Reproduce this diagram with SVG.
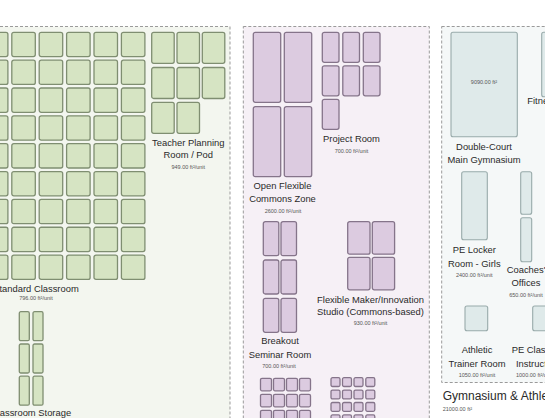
<svg xmlns="http://www.w3.org/2000/svg" xmlns:xlink="http://www.w3.org/1999/xlink" width="545" height="418" viewBox="0 0 545 418">
<style>
.panel{stroke:#9a9a9a;stroke-width:1;stroke-dasharray:3 2}
.g{fill:#d6e4c3;stroke:#7f8e71;stroke-width:1.3}
.p{fill:#dccbe0;stroke:#85748a;stroke-width:1.3}
.t{fill:#dfeaea;stroke:#98aaaa;stroke-width:1.1}
.lbl{font-family:"Liberation Sans",Arial,sans-serif;font-size:9.4px;fill:#2a2a2a;text-anchor:middle}
.sm{font-family:"Liberation Sans",Arial,sans-serif;font-size:5.5px;fill:#555;text-anchor:middle}
.ttl{font-family:"Liberation Sans",Arial,sans-serif;font-size:12px;fill:#2a2a2a}
</style>
<defs>
<rect id="cc" class="g" width="23.5" height="24.3" rx="2"/>
<rect id="tp" class="g" width="22.5" height="31" rx="2"/>
<rect id="st" class="g" width="10" height="29" rx="1.5"/>
<rect id="oc" class="p" width="27.4" height="70" rx="2"/>
<rect id="pr" class="p" width="16.7" height="30" rx="2"/>
<rect id="br" class="p" width="15.5" height="34" rx="2"/>
<rect id="mk" class="p" width="22.3" height="32.5" rx="2"/>
<rect id="s1" class="p" width="11" height="12.5" rx="1.5"/>
<rect id="s2" class="p" width="9" height="8.8" rx="1.5"/>
</defs>
<rect width="545" height="418" fill="#fff"/>

<g id="panel-academic">
<rect class="panel" x="-100" y="26.5" width="330" height="480" fill="#f3f6ef"/>
</g>
<g id="panel-commons">
<rect class="panel" x="243.3" y="26.5" width="186" height="480" fill="#f6f0f6"/>
</g>
<g id="panel-gym">
<rect class="panel" x="441.7" y="26.5" width="300" height="356" fill="#f5f8f8"/>
<text class="ttl" x="442.7" y="400">Gymnasium &amp; Athletics</text>
<text class="sm" x="442.7" y="411" style="text-anchor:start">21000.00 ft²</text>
</g>

<g id="standard-classroom">
<use href="#cc" x="-15.6" y="32.3"/><use href="#cc" x="11.8" y="32.3"/><use href="#cc" x="39.2" y="32.3"/><use href="#cc" x="66.6" y="32.3"/><use href="#cc" x="94" y="32.3"/><use href="#cc" x="121.4" y="32.3"/>
<use href="#cc" x="-15.6" y="60.15"/><use href="#cc" x="11.8" y="60.15"/><use href="#cc" x="39.2" y="60.15"/><use href="#cc" x="66.6" y="60.15"/><use href="#cc" x="94" y="60.15"/><use href="#cc" x="121.4" y="60.15"/>
<use href="#cc" x="-15.6" y="88"/><use href="#cc" x="11.8" y="88"/><use href="#cc" x="39.2" y="88"/><use href="#cc" x="66.6" y="88"/><use href="#cc" x="94" y="88"/><use href="#cc" x="121.4" y="88"/>
<use href="#cc" x="-15.6" y="115.85"/><use href="#cc" x="11.8" y="115.85"/><use href="#cc" x="39.2" y="115.85"/><use href="#cc" x="66.6" y="115.85"/><use href="#cc" x="94" y="115.85"/><use href="#cc" x="121.4" y="115.85"/>
<use href="#cc" x="-15.6" y="143.7"/><use href="#cc" x="11.8" y="143.7"/><use href="#cc" x="39.2" y="143.7"/><use href="#cc" x="66.6" y="143.7"/><use href="#cc" x="94" y="143.7"/><use href="#cc" x="121.4" y="143.7"/>
<use href="#cc" x="-15.6" y="171.55"/><use href="#cc" x="11.8" y="171.55"/><use href="#cc" x="39.2" y="171.55"/><use href="#cc" x="66.6" y="171.55"/><use href="#cc" x="94" y="171.55"/><use href="#cc" x="121.4" y="171.55"/>
<use href="#cc" x="-15.6" y="199.4"/><use href="#cc" x="11.8" y="199.4"/><use href="#cc" x="39.2" y="199.4"/><use href="#cc" x="66.6" y="199.4"/><use href="#cc" x="94" y="199.4"/><use href="#cc" x="121.4" y="199.4"/>
<use href="#cc" x="-15.6" y="227.25"/><use href="#cc" x="11.8" y="227.25"/><use href="#cc" x="39.2" y="227.25"/><use href="#cc" x="66.6" y="227.25"/><use href="#cc" x="94" y="227.25"/><use href="#cc" x="121.4" y="227.25"/>
<use href="#cc" x="-15.6" y="255.1"/><use href="#cc" x="11.8" y="255.1"/><use href="#cc" x="39.2" y="255.1"/><use href="#cc" x="66.6" y="255.1"/><use href="#cc" x="94" y="255.1"/><use href="#cc" x="121.4" y="255.1"/>
<text class="lbl" x="36" y="292">Standard Classroom</text>
<text class="sm" x="36" y="300">796.00 ft²/unit</text>
</g>

<g id="teacher-planning">
<use href="#tp" x="151.7" y="32.3"/><use href="#tp" x="177" y="32.3"/><use href="#tp" x="202.3" y="32.3"/>
<use href="#tp" x="151.7" y="67.5"/><use href="#tp" x="177" y="67.5"/><use href="#tp" x="202.3" y="67.5"/>
<use href="#tp" x="151.7" y="102.3"/><use href="#tp" x="177" y="102.3"/>
<text class="lbl" x="188.3" y="145.5">Teacher Planning</text>
<text class="lbl" x="188.3" y="158">Room / Pod</text>
<text class="sm" x="188.3" y="168.5">949.00 ft²/unit</text>
</g>

<g id="classroom-storage">
<use href="#st" x="19.3" y="311.7"/><use href="#st" x="33" y="311.7"/>
<use href="#st" x="19.3" y="344"/><use href="#st" x="33" y="344"/>
<use href="#st" x="19.3" y="376.2"/><use href="#st" x="33" y="376.2"/>
<text class="lbl" x="31" y="416">Classroom Storage</text>
</g>

<g id="open-commons">
<use href="#oc" x="253.3" y="32.3"/><use href="#oc" x="284.3" y="32.3"/>
<use href="#oc" x="253.3" y="106.7"/><use href="#oc" x="284.3" y="106.7"/>
<text class="lbl" x="282.5" y="189">Open Flexible</text>
<text class="lbl" x="282.5" y="202">Commons Zone</text>
<text class="sm" x="283" y="213">2600.00 ft²/unit</text>
</g>

<g id="project-room">
<use href="#pr" x="322.3" y="32.3"/><use href="#pr" x="342.8" y="32.3"/><use href="#pr" x="363.3" y="32.3"/>
<use href="#pr" x="322.3" y="65.8"/><use href="#pr" x="342.8" y="65.8"/><use href="#pr" x="363.3" y="65.8"/>
<use href="#pr" x="322.3" y="99.3"/>
<text class="lbl" x="351.5" y="142">Project Room</text>
<text class="sm" x="351.5" y="153">700.00 ft²/unit</text>
</g>

<g id="breakout-seminar">
<use href="#br" x="263.3" y="221.7"/><use href="#br" x="281" y="221.7"/>
<use href="#br" x="263.3" y="260"/><use href="#br" x="281" y="260"/>
<use href="#br" x="263.3" y="298.3"/><use href="#br" x="281" y="298.3"/>
<text class="lbl" x="280" y="344">Breakout</text>
<text class="lbl" x="280" y="357.5">Seminar Room</text>
<text class="sm" x="279" y="368">700.00 ft²/unit</text>
</g>

<g id="maker-studio">
<use href="#mk" x="347.7" y="221.7"/><use href="#mk" x="372.3" y="221.7"/>
<use href="#mk" x="347.7" y="257.3"/><use href="#mk" x="372.3" y="257.3"/>
<text class="lbl" x="370.5" y="302.5">Flexible Maker/Innovation</text>
<text class="lbl" x="370.5" y="314.5">Studio (Commons-based)</text>
<text class="sm" x="370.5" y="325">930.00 ft²/unit</text>
</g>

<g id="small-rooms-a">
<use href="#s1" x="260.5" y="378.3"/><use href="#s1" x="273.5" y="378.3"/><use href="#s1" x="286.5" y="378.3"/><use href="#s1" x="299.5" y="378.3"/>
<use href="#s1" x="260.5" y="394.3"/><use href="#s1" x="273.5" y="394.3"/><use href="#s1" x="286.5" y="394.3"/><use href="#s1" x="299.5" y="394.3"/>
<use href="#s1" x="260.5" y="410.3"/><use href="#s1" x="273.5" y="410.3"/><use href="#s1" x="286.5" y="410.3"/><use href="#s1" x="299.5" y="410.3"/>
</g>

<g id="small-rooms-b">
<use href="#s2" x="331" y="377.7"/><use href="#s2" x="342.5" y="377.7"/><use href="#s2" x="354" y="377.7"/><use href="#s2" x="365.8" y="377.7"/>
<use href="#s2" x="331" y="390.1"/><use href="#s2" x="342.5" y="390.1"/><use href="#s2" x="354" y="390.1"/><use href="#s2" x="365.8" y="390.1"/>
<use href="#s2" x="331" y="402.5"/><use href="#s2" x="342.5" y="402.5"/><use href="#s2" x="354" y="402.5"/><use href="#s2" x="365.8" y="402.5"/>
<use href="#s2" x="331" y="414.9"/><use href="#s2" x="342.5" y="414.9"/><use href="#s2" x="354" y="414.9"/><use href="#s2" x="365.8" y="414.9"/>
</g>

<g id="main-gym">
<rect class="t" x="451" y="32.3" width="66.3" height="104.4" rx="2"/>
<text class="sm" x="484" y="84">9090.00 ft²</text>
<text class="lbl" x="484" y="150">Double-Court</text>
<text class="lbl" x="484" y="162.5">Main Gymnasium</text>
</g>

<g id="fitness">
<rect class="t" x="541.7" y="32.3" width="40" height="64.4" rx="2"/>
<text class="lbl" x="527.3" y="104" style="text-anchor:start">Fitness Center</text>
</g>

<g id="pe-locker-girls">
<rect class="t" x="461.7" y="171.7" width="25.6" height="68" rx="2"/>
<text class="lbl" x="474.3" y="253">PE Locker</text>
<text class="lbl" x="474.3" y="267">Room - Girls</text>
<text class="sm" x="474.3" y="277">2400.00 ft²/unit</text>
</g>

<g id="coaches-offices">
<rect class="t" x="520.7" y="171.7" width="11" height="42.6" rx="2"/>
<rect class="t" x="520.7" y="217.7" width="11" height="44" rx="2"/>
<text class="lbl" x="506.7" y="273" style="text-anchor:start">Coaches'</text>
<text class="lbl" x="526" y="286">Offices</text>
<text class="sm" x="526" y="297">650.00 ft²/unit</text>
</g>

<g id="athletic-trainer">
<rect class="t" x="465" y="306" width="22.7" height="24.7" rx="2"/>
<text class="lbl" x="477" y="353">Athletic</text>
<text class="lbl" x="477" y="366.5">Trainer Room</text>
<text class="sm" x="477" y="377">1050.00 ft²/unit</text>
</g>

<g id="pe-classroom">
<rect class="t" x="532.7" y="306" width="22.7" height="24.7" rx="2"/>
<text class="lbl" x="511.7" y="353" style="text-anchor:start">PE Classroom</text>
<text class="lbl" x="516" y="366.5" style="text-anchor:start">Instructional</text>
<text class="sm" x="516" y="377" style="text-anchor:start">1000.00 ft²/unit</text>
</g>

<g id="connectors"></g>
</svg>
